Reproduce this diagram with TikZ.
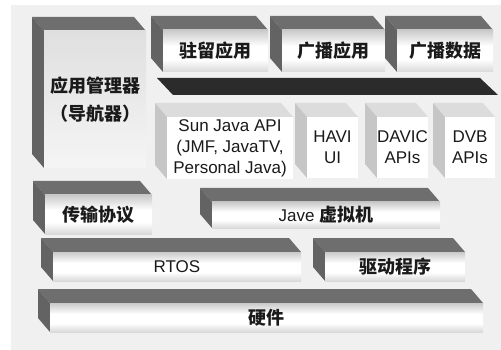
\documentclass[tikz,border=0pt]{standalone}
\usepackage{fontspec}
\setmainfont{Liberation Sans}
\newfontfamily\cjk{Noto Sans CJK SC}
\definecolor{bgc}{HTML}{F0F0F0}
\definecolor{darkface}{HTML}{6E6E6E}
\definecolor{lightface}{HTML}{DCDCDC}
\definecolor{barc}{HTML}{2B2B2B}
\definecolor{txt}{HTML}{1A1A1A}
\pgfdeclareverticalshading{frontshade}{100bp}{color(0bp)=(gray!30); color(25bp)=(gray!30); color(40bp)=(white); color(56bp)=(white); color(75bp)=(gray!42); color(100bp)=(gray!42)}
\tikzset{
  lbl/.style={text=txt, align=center, inner sep=0pt},
  cn/.style={lbl, font=\cjk\bfseries\fontsize{18}{28}\selectfont},
  en/.style={lbl, font=\fontsize{17}{21}\selectfont},
  barfront/.style={shading=frontshade},
  tallfront/.style={top color=gray!25, bottom color=gray!8},
  whitefront/.style={fill=white}
}
% #1 name, #2 x1, #3 y1, #4 x2, #5 y2, #6 face colour, #7 front style, #8 label style, #9 text
\newcommand{\blockdd}[9]{%
  \fill[#6] (#2-12,#3-14) -- (#4-12,#3-14) -- (#4,#3) -- (#2,#3) -- cycle;
  \fill[#6!90!black] (#2-12,#3-14) -- (#2,#3) -- (#2,#5) -- (#2-12,#5-14) -- cycle;
  \path[#7] (#2,#3) rectangle (#4,#5);
  \node[#8] (#1) at ({(#2+#4)/2},{(#3+#5)/2}) {#9};
}
\begin{document}
\begin{tikzpicture}[x=1pt,y=-1pt]
\useasboundingbox (0,0) rectangle (501,350);
\fill[bgc] (11,5) rectangle (501,350);
% left tall block
\blockdd{mgr}{44}{31}{146}{168}{darkface}{tallfront}{cn}{应用管理器\\（导航器）}
% top row
\blockdd{resid}{163}{30}{268}{72}{darkface}{barfront}{cn}{驻留应用}
\blockdd{bapp}{282}{30}{385}{72}{darkface}{barfront}{cn}{广播应用}
\blockdd{bdata}{397}{30}{493}{72}{darkface}{barfront}{cn}{广播数据}
% dark bar
\fill[barc] (157,78) -- (480,78) -- (498,95) -- (173,95) -- cycle;
% API row
\blockdd{sun}{167}{117}{293}{179}{lightface}{whitefront}{en}{Sun Java API\\(JMF, JavaTV,\\Personal Java)}
\blockdd{havi}{307}{117}{358}{178}{lightface}{whitefront}{en}{HAVI\\UI}
\blockdd{davic}{377}{117}{428}{178}{lightface}{whitefront}{en}{DAVIC\\APIs}
\blockdd{dvb}{445}{117}{495}{178}{lightface}{whitefront}{en}{DVB\\APIs}
% middle row
\blockdd{trans}{45}{195}{152}{234}{darkface}{barfront}{cn}{传输协议}
\blockdd{jvm}{212}{202}{440}{228}{darkface}{barfront}{en}{Jave {\cjk\bfseries\fontsize{18}{21}\selectfont 虚拟机}}
% lower rows
\blockdd{rtos}{53}{252}{301}{281}{darkface}{barfront}{en}{RTOS}
\blockdd{drv}{325}{252}{465}{281}{darkface}{barfront}{cn}{驱动程序}
\blockdd{hw}{50}{303}{483}{332}{darkface}{barfront}{cn}{硬件}
\end{tikzpicture}
\end{document}
